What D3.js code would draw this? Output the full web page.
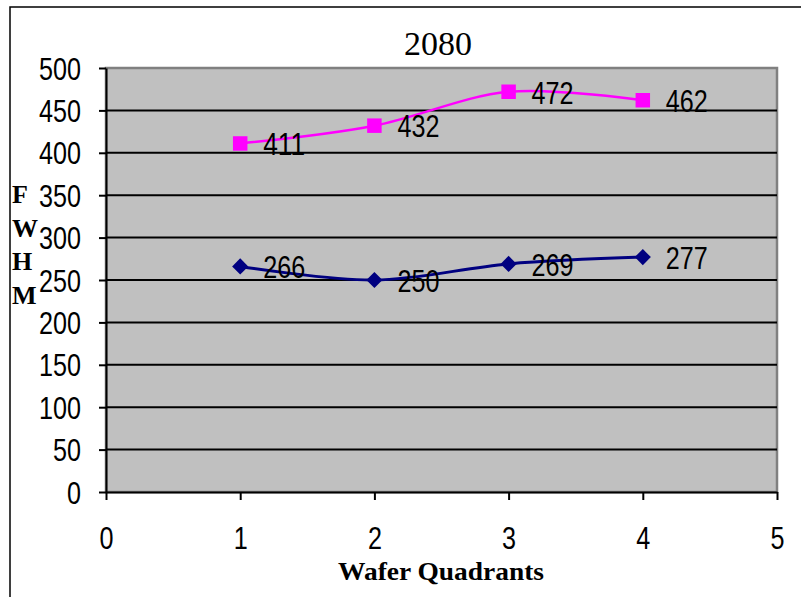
<!DOCTYPE html>
<html>
<head>
<meta charset="utf-8">
<script src="https://cdn.jsdelivr.net/npm/d3@7"></script>
<style>
  html, body { margin: 0; padding: 0; background: #fff; }
  svg { display: block; }
  .num { font-family: "Liberation Sans", Arial, sans-serif; font-size: 31px; fill: #000; }
  .serif { font-family: "Liberation Serif", "Times New Roman", serif; fill: #000; }
</style>
</head>
<body>
<svg id="chart" width="801" height="597"></svg>
<script>
// Quadrant positions and FWHM readings for the two series
const quadrants = [1, 2, 3, 4];
const upperSeries = [411, 432, 472, 462];
const lowerSeries = [266, 250, 269, 277];
const yTicks = [0, 50, 100, 150, 200, 250, 300, 350, 400, 450, 500];
const xTicks = [0, 1, 2, 3, 4, 5];
const yTitleLetters = ["F", "W", "H", "M"];

const svg = d3.select("#chart");
const plot = { left: 106, right: 777, top: 68, bottom: 492 };
const digitWidth = 14; // condensed numeral width

const x = d3.scaleLinear().domain([0, 5]).range([plot.left, plot.right]);
const y = d3.scaleLinear().domain([0, 500]).range([plot.bottom, plot.top]);

function condense(sel) {
  sel.attr("textLength", function () { return this.textContent.length * digitWidth; })
     .attr("lengthAdjust", "spacingAndGlyphs");
}

// outer chart frame
svg.append("rect")
  .attr("x", 10).attr("y", 7).attr("width", 820).attr("height", 620)
  .attr("fill", "none").attr("stroke", "#000").attr("stroke-width", 1.5);

// plot background
svg.append("rect")
  .attr("x", plot.left).attr("y", plot.top)
  .attr("width", plot.right - plot.left).attr("height", plot.bottom - plot.top)
  .attr("fill", "#C0C0C0").attr("stroke", "#808080").attr("stroke-width", 2.5);

// horizontal gridlines
svg.append("g").selectAll("line")
  .data(yTicks.filter(v => v > 0 && v < 500))
  .join("line")
  .attr("x1", plot.left).attr("x2", plot.right)
  .attr("y1", d => y(d)).attr("y2", d => y(d))
  .attr("stroke", "#000").attr("stroke-width", 2);

// y axis
const yAxis = svg.append("g")
  .attr("transform", `translate(${plot.left},0)`)
  .call(d3.axisLeft(y).tickValues(yTicks).tickSize(7).tickPadding(18).tickSizeOuter(0));
yAxis.select(".domain").attr("stroke", "#000").attr("stroke-width", 2);
yAxis.selectAll(".tick line").attr("stroke", "#000").attr("stroke-width", 2);
yAxis.selectAll(".tick text").attr("class", "num").attr("font-family", null).attr("font-size", null)
  .attr("dy", "0.36em").call(condense);

// x axis
const xAxis = svg.append("g")
  .attr("transform", `translate(0,${plot.bottom})`)
  .call(d3.axisBottom(x).tickValues(xTicks).tickFormat(d3.format("d")).tickSize(8).tickPadding(27).tickSizeOuter(0));
xAxis.select(".domain").attr("stroke", "#000").attr("stroke-width", 2);
xAxis.selectAll(".tick line").attr("stroke", "#000").attr("stroke-width", 2);
xAxis.selectAll(".tick text").attr("class", "num").attr("font-family", null).attr("font-size", null)
  .call(condense);

// title
svg.append("text").attr("class", "serif")
  .attr("x", 438).attr("y", 55).attr("text-anchor", "middle")
  .attr("font-size", 34).text("2080");

// x axis title
svg.append("text").attr("class", "serif")
  .attr("x", 441).attr("y", 580).attr("text-anchor", "middle")
  .attr("font-size", 25).attr("font-weight", "bold")
  .attr("textLength", 206).attr("lengthAdjust", "spacingAndGlyphs")
  .text("Wafer Quadrants");

// y axis title, stacked letters
svg.append("g").selectAll("text")
  .data(yTitleLetters)
  .join("text").attr("class", "serif")
  .attr("x", 12).attr("y", (d, i) => 203 + i * 33.5)
  .attr("font-size", 26).attr("font-weight", "bold")
  .text(d => d);

const line = d3.line()
  .x((d, i) => x(quadrants[i]))
  .y(d => y(d))
  .curve(d3.curveCatmullRom.alpha(0.5));

function drawSeries(values, color, width, symbolType, symbolSize, rotate) {
  const g = svg.append("g");
  g.append("path").datum(values)
    .attr("d", line).attr("fill", "none")
    .attr("stroke", color).attr("stroke-width", width);
  g.selectAll("path.marker").data(values).join("path")
    .attr("class", "marker")
    .attr("d", d3.symbol().type(symbolType).size(symbolSize))
    .attr("transform", (d, i) => `translate(${x(quadrants[i])},${y(d)}) rotate(${rotate})`)
    .attr("fill", color);
  g.selectAll("text").data(values).join("text")
    .attr("class", "num")
    .attr("x", (d, i) => x(quadrants[i]) + 23)
    .attr("y", d => y(d))
    .attr("dy", "0.38em")
    .text(d => d)
    .call(condense);
}

drawSeries(upperSeries, "#FF00FF", 2.5, d3.symbolSquare, 210, 0);
drawSeries(lowerSeries, "#000080", 3, d3.symbolSquare, 130, 45);
</script>
</body>
</html>
